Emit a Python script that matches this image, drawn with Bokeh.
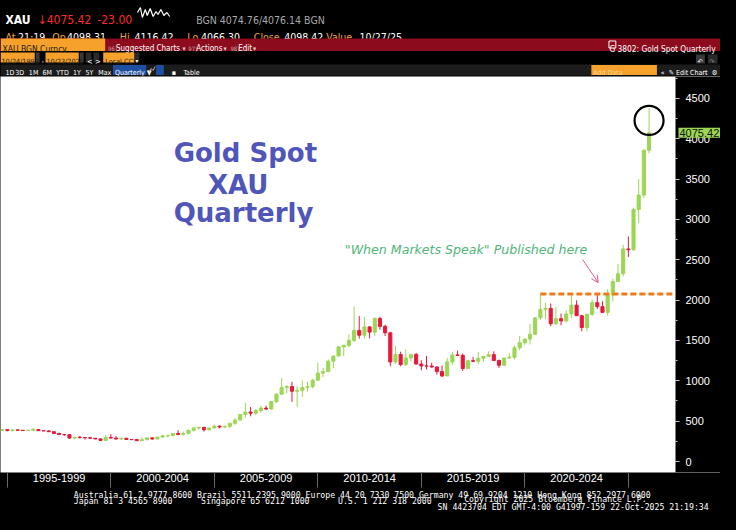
from bokeh.plotting import figure
from bokeh.models import (Range1d, FixedTicker, SingleIntervalTicker, Label,
                          Arrow, OpenHead, ColumnDataSource, BoxAnnotation,
                          GlobalInlineStyleSheet)
from bokeh.layouts import column
from bokeh.embed import file_html
from bokeh.resources import INLINE
from bokeh.core.properties import value

# ---------------- data: XAU quarterly OHLC ----------------
quarters = (["1994Q2", "1994Q3", "1994Q4"] +
            [f"{y}Q{q}" for y in range(1995, 2026) for q in (1, 2, 3, 4)])

opens = [391.9, 385.8, 394.9,
         383.3, 392.0, 387.1, 384.0,
         387.0, 396.4, 382.0, 379.5,
         369.3, 348.0, 334.6, 332.1,
         290.2, 301.0, 296.3, 293.9,
         288.0, 279.5, 261.3, 299.0,
         290.3, 278.0, 288.2, 273.6,
         272.7, 258.2, 270.6, 293.1,
         279.0, 303.0, 318.5, 323.7,
         347.6, 334.9, 346.0, 388.0,
         416.1, 423.7, 393.3, 415.7,
         438.0, 427.5, 437.1, 473.3,
         513.0, 582.0, 613.5, 599.3,
         632.0, 661.8, 650.5, 743.0,
         833.8, 916.2, 928.3, 871.0,
         882.9, 916.5, 926.4, 1008.5,
         1096.2, 1115.5, 1244.0, 1307.5,
         1420.8, 1439.4, 1500.4, 1624.1,
         1565.8, 1668.7, 1604.0, 1772.1,
         1675.4, 1595.7, 1234.6, 1326.5,
         1201.6, 1283.8, 1327.3, 1208.2,
         1184.9, 1183.2, 1172.4, 1115.1,
         1060.2, 1234.2, 1320.6, 1315.8,
         1151.7, 1249.4, 1241.6, 1279.8,
         1302.7, 1324.7, 1252.6, 1192.5,
         1282.5, 1292.3, 1409.6, 1472.5,
         1517.3, 1577.2, 1780.9, 1886.0,
         1898.4, 1707.7, 1770.1, 1742.8,
         1829.2, 1937.4, 1807.3, 1660.6,
         1824.0, 1969.3, 1919.4, 1848.6,
         2062.9, 2229.9, 2326.8, 2634.6,
         2624.6, 3123.6, 3303.1, 3858.9]

highs = [395, 398, 398,
         393, 396, 389, 396,
         416, 398, 389, 387,
         370, 357, 338, 337,
         306, 316, 300, 302,
         291, 290, 327, 339,
         317, 295, 292, 277,
         273, 298, 294, 294,
         305, 330, 326, 350,
         388, 372, 390, 417,
         430, 428, 415, 457,
         445, 443, 475, 538,
         585, 730, 675, 650,
         690, 693, 745, 845,
         1033, 946, 988, 934,
         1006, 990, 1024, 1227,
         1162, 1265, 1315, 1431,
         1448, 1577, 1921, 1803,
         1792, 1677, 1787, 1796,
         1696, 1605, 1434, 1361,
         1392, 1332, 1345, 1255,
         1307, 1224, 1178, 1191,
         1283, 1358, 1375, 1338,
         1264, 1296, 1357, 1307,
         1366, 1366, 1262, 1287,
         1347, 1439, 1557, 1525,
         1704, 1789, 2075, 1966,
         1959, 1916, 1834, 1877,
         2070, 1998, 1814, 1833,
         2009, 2081, 1987, 2135,
         2265, 2450, 2685, 2790,
         3148, 3500, 3870, 4381]

lows = [370, 380, 374,
        370, 382, 381, 380,
        386, 380, 378, 366,
        339, 333, 317, 284,
        277, 285, 272, 283,
        277, 257, 252, 285,
        274, 270, 268, 263,
        255, 256, 264, 271,
        277, 295, 300, 311,
        326, 320, 342, 370,
        390, 371, 387, 411,
        411, 414, 414, 455,
        513, 542, 560, 574,
        604, 636, 642, 723,
        833, 845, 740, 681,
        801, 865, 905, 1003,
        1045, 1107, 1157, 1307,
        1308, 1418, 1478, 1523,
        1523, 1527, 1556, 1635,
        1555, 1180, 1208, 1181,
        1182, 1240, 1206, 1131,
        1142, 1162, 1077, 1046,
        1060, 1200, 1306, 1123,
        1146, 1240, 1204, 1236,
        1302, 1250, 1160, 1182,
        1276, 1266, 1380, 1445,
        1451, 1568, 1757, 1765,
        1677, 1690, 1688, 1722,
        1780, 1805, 1615, 1617,
        1805, 1893, 1846, 1810,
        1985, 2225, 2294, 2536,
        2614, 2957, 3268, 3820]

closes = [385.8, 394.9, 383.3,
          392.0, 387.1, 384.0, 387.0,
          396.4, 382.0, 379.5, 369.3,
          348.0, 334.6, 332.1, 290.2,
          301.0, 296.3, 293.9, 288.0,
          279.5, 261.3, 299.0, 290.3,
          278.0, 288.2, 273.6, 272.7,
          258.2, 270.6, 293.1, 279.0,
          303.0, 318.5, 323.7, 347.6,
          334.9, 346.0, 388.0, 416.1,
          423.7, 393.3, 415.7, 438.0,
          427.5, 437.1, 473.3, 513.0,
          582.0, 613.5, 599.3, 632.0,
          661.8, 650.5, 743.0, 833.8,
          916.2, 928.3, 871.0, 882.9,
          916.5, 926.4, 1008.5, 1096.2,
          1115.5, 1244.0, 1307.5, 1420.8,
          1439.4, 1500.4, 1624.1, 1565.8,
          1668.7, 1604.0, 1772.1, 1675.4,
          1595.7, 1234.6, 1326.5, 1201.6,
          1283.8, 1327.3, 1208.2, 1184.9,
          1183.2, 1172.4, 1115.1, 1060.2,
          1234.2, 1320.6, 1315.8, 1151.7,
          1249.4, 1241.6, 1279.8, 1302.7,
          1324.7, 1252.6, 1192.5, 1282.5,
          1292.3, 1409.6, 1472.5, 1517.3,
          1577.2, 1780.9, 1886.0, 1898.4,
          1707.7, 1770.1, 1742.8, 1829.2,
          1937.4, 1807.3, 1660.6, 1824.0,
          1969.3, 1919.4, 1848.6, 2062.9,
          2229.9, 2326.8, 2634.6, 2624.6,
          3123.6, 3303.1, 3858.9, 4075.42]

period_starts = [1995, 2000, 2005, 2010, 2015, 2020, 2025]
period_labels = ["1995-1999", "2000-2004", "2005-2009", "2010-2014",
                 "2015-2019", "2020-2024"]
y_ticks_step = 500
breakout_quarter = "2020Q3"
last_price_text = "4075.42"

# ---------------- styling ----------------
GREEN = "#9cd655"
RED = "#e8173c"
HDR = "Liberation Sans Narrow, DejaVu Sans Condensed, Roboto Condensed, Liberation Sans, sans-serif"
ORANGE_TXT = "#eda447"
ORANGE_BOX = "#f6a12b"
DARKRED = "#8c0b1d"

# bar dates: Bloomberg plots each quarter at its period end
xs = [int(s[:4]) + int(s[5]) * 0.25 for s in quarters]
cols = [GREEN if c >= o else RED for o, c in zip(opens, closes)]
src = ColumnDataSource(dict(x=xs, o=opens, h=highs, l=lows, c=closes,
                            top=[max(o, c) for o, c in zip(opens, closes)],
                            bot=[min(o, c) for o, c in zip(opens, closes)],
                            col=cols))


# reference-pixel helpers for annotation placement
def rx(px):
    return 1995 + (px - 7) / 21.16


def ry(py):
    return (461 - py) / 0.080667


X0, X_WHITE, X_END = rx(0), rx(690), rx(736)
Y0, Y1 = ry(472), ry(76)

# ---------------- main chart ----------------
p = figure(width=720, height=412, x_range=Range1d(X0, X_END), y_range=Range1d(Y0, Y1),
           y_axis_location="right", output_backend="svg", toolbar_location=None,
           min_border_left=0, min_border_right=0, min_border_top=0,
           min_border_bottom=16, background_fill_color="white",
           border_fill_color="black", outline_line_color=None)
p.grid.visible = False

# black price-scale strip on the right of the plotting area
p.add_layout(BoxAnnotation(left=X_WHITE, fill_color="black", fill_alpha=1.0,
                           line_color=None, level="underlay"))

p.segment(x0="x", y0="h", x1="x", y1="l", color="col", line_width=1, source=src)
p.vbar(x="x", top="top", bottom="bot", width=0.15, fill_color="col",
       line_color="col", line_width=1, source=src)

# y axis (right, labels drawn on the black strip)
ya = p.yaxis[0]
ya.ticker = SingleIntervalTicker(interval=y_ticks_step, num_minor_ticks=2)
ya.axis_line_color = None
ya.major_tick_line_color = "#c8c8c8"
ya.minor_tick_line_color = "#c8c8c8"
ya.major_tick_in = 45
ya.major_tick_out = -41
ya.minor_tick_in = 45
ya.minor_tick_out = -43
ya.major_label_standoff = 6
ya.major_label_text_color = "white"
ya.major_label_text_font = "Liberation Sans"
ya.major_label_text_font_size = "11px"

# x axis (bottom) - period labels centred between boundaries
xa = p.xaxis[0]
mids = [(a + b) / 2 for a, b in zip(period_starts[:-1], period_starts[1:])]
xa.ticker = FixedTicker(ticks=mids, minor_ticks=period_starts)
xa.major_label_overrides = {m: lab for m, lab in zip(mids, period_labels)}
xa.axis_line_color = None
xa.major_tick_line_color = None
xa.major_tick_in = 0
xa.major_tick_out = 0
xa.minor_tick_line_color = "#6a6a6a"
xa.minor_tick_in = -15
xa.minor_tick_out = 0
xa.major_label_standoff = 1
xa.major_label_text_color = "white"
xa.major_label_text_font = "Liberation Sans"
xa.major_label_text_font_size = "11px"

# breakout level: dashed line from the 2020Q3 high to the right edge
bi = quarters.index(breakout_quarter)
p.segment(x0=[xs[bi]], y0=[highs[bi]], x1=[X_WHITE], y1=[highs[bi]],
          line_color="#f07a1a", line_width=3, line_dash="6 3")

# circle round the latest quarter's high
p.scatter(x=[xs[-1]], y=[(highs[-1] + closes[-1]) / 2], marker="circle", size=29,
          fill_color=None, line_color="black", line_width=2.2)

# title
TITLE_C = "#5056b9"
for txt_, px, py in [("Gold Spot", 177, 152), ("XAU", 212, 184), ("Quarterly", 177, 212)]:
    p.add_layout(Label(x=rx(px), y=ry(py), text=txt_, text_color=TITLE_C,
                       text_font="DejaVu Sans", text_font_style="bold",
                       text_font_size="26px", text_baseline="alphabetic"))

p.add_layout(Label(x=rx(352), y=ry(249), text='"When Markets Speak" Published here',
                   text_color="#4fb57b", text_font="DejaVu Sans",
                   text_font_style="italic", text_font_size="12.6px",
                   text_baseline="alphabetic"))

p.add_layout(Arrow(x_start=rx(595), y_start=ry(259), x_end=rx(611), y_end=ry(282),
                   line_color="#e45a86", line_width=1,
                   end=OpenHead(size=7, line_color="#e45a86", line_width=1)))

# last price tag on the price scale
p.add_layout(Label(x=X_END, y=closes[-1], x_offset=-42, text=last_price_text,
                   text_baseline="middle", text_color="#111111",
                   text_font="Liberation Sans", text_font_size="11px",
                   background_fill_color=GREEN, padding=1))

# ---------------- header (terminal chrome) ----------------
h = figure(width=720, height=76, x_range=Range1d(0, 736), y_range=Range1d(76, 0),
           output_backend="svg", toolbar_location=None, min_border=0,
           background_fill_color="black", border_fill_color="black",
           outline_line_color=None)
h.axis.visible = False
h.grid.visible = False


def box(fig, l, r, t, b, color):
    fig.quad(left=[l], right=[r], top=[t], bottom=[b], fill_color=color, line_color=None)


def txt(fig, x, y, s, color, size, font=HDR, align="left", style="normal"):
    fig.text(x=[x], y=[y], text=[s], text_color=color, text_font_size=size,
             text_font=value(font), text_align=align, text_baseline="alphabetic",
             text_font_style=style)


# row 1
txt(h, 5, 19, "XAU", "white", "12px", style="bold")
txt(h, 38, 19, "\u2193" + "4075.42", "#ff2d2d", "12px")
txt(h, 99, 19, "-23.00", "#ff2d2d", "12px")
h.line(x=[140, 143, 145, 148, 150, 153, 156, 159, 161, 164, 167, 170, 173],
       y=[12, 7, 17, 9, 15, 8, 16, 11, 14, 9, 15, 12, 16], line_color="white", line_width=1.2)
txt(h, 200, 19, "BGN 4074.76/4076.14 BGN", "#a9a9a9", "10.5px")
# row 2
for s, x, c in [("At", 5, ORANGE_TXT), ("21:19", 18, "white"), ("Op", 53, ORANGE_TXT),
                ("4098.31", 68, "white"), ("Hi", 122, ORANGE_TXT), ("4116.42", 137, "white"),
                ("Lo", 191, ORANGE_TXT), ("4066.30", 205, "white"), ("Close", 259, ORANGE_TXT),
                ("4098.42", 290, "white"), ("Value", 333, ORANGE_TXT), ("10/27/25", 367, "white")]:
    txt(h, x, 36.5, s, c, "10.5px")
# row 3
box(h, 0, 736, 38, 50.5, DARKRED)
box(h, 0, 107, 38, 50.5, ORANGE_BOX)
txt(h, 2, 48, "XAU BGN Curncy", "#1a1a1a", "8.5px")
for s, x, c, sz in [("96)", 110, "#c8a0a0", "6px"), ("Suggested Charts", 118, "white", "8px"),
                    ("\u25be", 186, "#d0d0d0", "7px"), ("97)", 192, "#c8a0a0", "6px"),
                    ("Actions", 200, "white", "8px"), ("\u25be", 228, "#d0d0d0", "7px"),
                    ("98)", 235, "#c8a0a0", "6px"), ("Edit", 243, "white", "8px"),
                    ("\u25be", 258, "#d0d0d0", "7px")]:
    txt(h, x, 48, s, c, sz)
h.quad(left=[622], right=[629], top=[40.5], bottom=[47.5], fill_color=None,
       line_color="white", line_width=1)
txt(h, 731, 48, "G 3802: Gold Spot Quarterly", "white", "8.3px", align="right")
# row 4
box(h, 0, 35, 52, 62, ORANGE_BOX)
box(h, 36, 40, 52, 62, "#3a3a3a")
box(h, 46, 80, 52, 62, ORANGE_BOX)
box(h, 81, 85, 52, 62, "#3a3a3a")
box(h, 87, 93, 52, 62, "#2a2a2a")
box(h, 95, 101, 52, 62, "#2a2a2a")
box(h, 105, 137, 52, 62, ORANGE_BOX)
box(h, 137, 142, 52, 62, "#2a2a2a")
txt(h, 1, 60.5, "10/24/1993", "#222222", "7.2px")
txt(h, 42, 60.5, "-", "white", "7.5px")
txt(h, 47, 60.5, "10/23/2025", "#222222", "7.2px")
txt(h, 88.5, 60.5, "<", "white", "7.5px")
txt(h, 96.5, 60.5, ">", "white", "7.5px")
txt(h, 107, 60.5, "Local CCY", "#222222", "7.2px")
txt(h, 138, 60, "\u25be", "white", "6px")
box(h, 711, 720, 54, 63, "#3a3a3a")
box(h, 723, 733, 54, 63, "#2a2a2a")
txt(h, 712.5, 61.5, "\u21b6", "white", "7px")
txt(h, 724.5, 61.5, "\u21b7", "#888888", "7px")
# row 5
box(h, 0, 736, 64, 75, "#1c1c1c")
box(h, 115, 149, 64.5, 74.5, "#1f4fa0")
box(h, 159, 167, 64.5, 74.5, "#1f4fa0")
box(h, 604, 671, 64.5, 74.5, ORANGE_BOX)
for s, x in [("1D", 5), ("3D", 15), ("1M", 29), ("6M", 43), ("YTD", 57), ("1Y", 74),
             ("5Y", 87), ("Max", 100), ("Quarterly \u25bc", 117), ("\u25aa", 175),
             ("Table", 187), ("\u00ab", 675), ("\u270e Edit Chart", 683), ("\u2237", 718),
             ("\u2699", 727)]:
    txt(h, x, 72.5, s, "white", "7px")
h.line(x=[152, 154, 156, 158], y=[72, 68, 70, 66], line_color="#b0b0b0", line_width=1)
txt(h, 606, 72.5, "Add Data", "#ffd68a", "7px")

# ---------------- footer ----------------
f = figure(width=720, height=26, x_range=Range1d(0, 736), y_range=Range1d(26, 0),
           output_backend="svg", toolbar_location=None, min_border=0,
           background_fill_color="black", border_fill_color="black",
           outline_line_color=None)
f.axis.visible = False
f.grid.visible = False
MONO = "DejaVu Sans Mono"
txt(f, 75, 6, "Australia 61 2 9777 8600 Brazil 5511 2395 9000 Europe 44 20 7330 7500 "
    "Germany 49 69 9204 1210 Hong Kong 852 2977 6000", "white", "8.2px", font=MONO)
txt(f, 75, 12, "Japan 81 3 4565 8900", "white", "8.2px", font=MONO)
txt(f, 205, 12, "Singapore 65 6212 1000", "white", "8.2px", font=MONO)
txt(f, 345, 12, "U.S. 1 212 318 2000", "white", "8.2px", font=MONO)
txt(f, 474, 10.5, "Copyright 2025 Bloomberg Finance L.P.", "white", "8.2px", font=MONO)
txt(f, 729, 18, "SN 4423704 EDT  GMT-4:00 G41997-159 22-Oct-2025 21:19:34", "white",
    "8.2px", font=MONO, align="right")

layout = column(h, p, f, spacing=0)
layout.stylesheets = [GlobalInlineStyleSheet(css="html, body { background: #000 !important; }")]
open("out.html", "w").write(file_html(layout, INLINE))
